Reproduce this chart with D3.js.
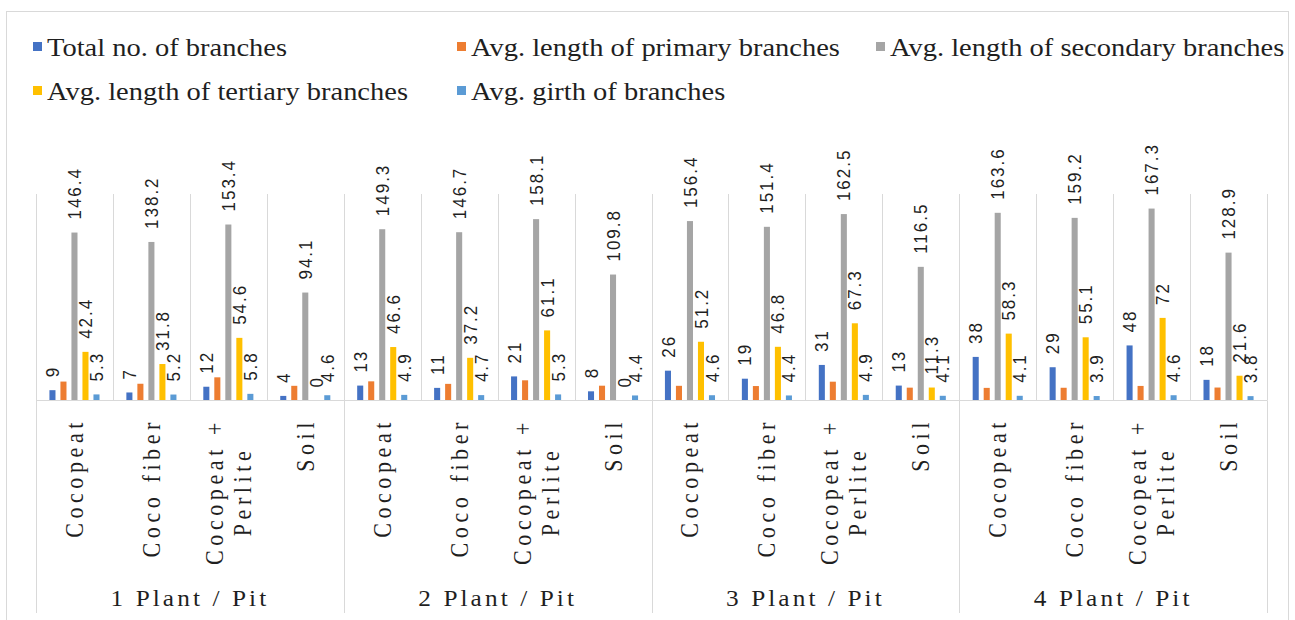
<!DOCTYPE html>
<html>
<head>
<meta charset="utf-8">
<script src="https://cdn.jsdelivr.net/npm/d3@7"></script>
<style>
  body { margin: 0; background: #fff; }
  text { fill: #1f1f1f; }
</style>
</head>
<body>
<div id="chart"></div>
<script>
// data
var groups = ["1 Plant / Pit", "2 Plant / Pit", "3 Plant / Pit", "4 Plant / Pit"];
var media = ["Cocopeat", "Coco fiber", "Cocopeat + Perlite", "Soil"];
var seriesNames = ["Total no. of branches", "Avg. length of primary branches",
  "Avg. length of secondary branches", "Avg. length of tertiary branches", "Avg. girth of branches"];

var totalBranches = [9, 7, 12, 4, 13, 11, 21, 8, 26, 19, 31, 13, 38, 29, 48, 18];
var primaryLength = [16.5, 14.6, 20.2, 12.8, 16.7, 14.5, 17.6, 12.9, 12.8, 12.6, 16.4, 11.2, 11.0, 11.1, 12.7, 11.3];
var secondaryLength = [146.4, 138.2, 153.4, 94.1, 149.3, 146.7, 158.1, 109.8, 156.4, 151.4, 162.5, 116.5, 163.6, 159.2, 167.3, 128.9];
var tertiaryLength = [42.4, 31.8, 54.6, 0, 46.6, 37.2, 61.1, 0, 51.2, 46.8, 67.3, 11.3, 58.3, 55.1, 72, 21.6];
var girth = [5.3, 5.2, 5.8, 4.6, 4.9, 4.7, 5.3, 4.4, 4.6, 4.4, 4.9, 4.1, 4.1, 3.9, 4.6, 3.8];

var seriesValues = [totalBranches, primaryLength, secondaryLength, tertiaryLength, girth];
var colors = ["#4472C4", "#ED7D31", "#A5A5A5", "#FFC000", "#5B9BD5"];
var showLabel = [true, false, true, true, true];

var width = 1295, height = 620;
var plotLeft = 36, plotRight = 1267, plotTop = 194, baseY = 400.5;
var stretch = 1.1;
var serif = "'Liberation Serif', 'Times New Roman', serif";
var sans = "'Liberation Sans', Arial, sans-serif";

var svg = d3.select("#chart").append("svg")
  .attr("width", width)
  .attr("height", height);

// chart border
svg.append("rect")
  .attr("x", 6.5).attr("y", 11.5)
  .attr("width", 1282).attr("height", 640)
  .attr("fill", "none").attr("stroke", "#d9d9d9");

// scales
var x0 = d3.scaleBand().domain(groups).range([plotLeft, plotRight]);
var x1 = d3.scaleBand().domain(media).range([0, x0.bandwidth()]);
var xs = d3.scaleBand().domain(seriesNames).range([0, x1.bandwidth()])
  .paddingInner(0.45).paddingOuter(1.22);
var y = d3.scaleLinear().domain([0, 180]).range([baseY, plotTop]);

// build rows
var rows = [];
groups.forEach(function(g, gi) {
  media.forEach(function(m, mi) {
    var idx = gi * media.length + mi;
    seriesNames.forEach(function(s, si) {
      rows.push({group: g, medium: m, series: s, si: si, value: seriesValues[si][idx]});
    });
  });
});

// vertical gridlines at category boundaries
var bounds = [];
groups.forEach(function(g) {
  media.forEach(function(m) { bounds.push(x0(g) + x1(m)); });
});
bounds.push(plotRight);
svg.selectAll("line.grid")
  .data(bounds)
  .enter().append("line")
    .attr("class", "grid")
    .attr("x1", function(d) { return Math.round(d) + 0.5; })
    .attr("x2", function(d) { return Math.round(d) + 0.5; })
    .attr("y1", y(180))
    .attr("y2", y(0))
    .attr("stroke", "#d9d9d9");

// bars
svg.selectAll("rect.bar")
  .data(rows)
  .enter().append("rect")
    .attr("class", "bar")
    .attr("x", function(d) { return x0(d.group) + x1(d.medium) + xs(d.series); })
    .attr("y", function(d) { return y(d.value); })
    .attr("width", xs.bandwidth())
    .attr("height", function(d) { return y(0) - y(d.value); })
    .attr("fill", function(d) { return colors[d.si]; });

// data labels (rotated)
svg.selectAll("text.val")
  .data(rows.filter(function(d) { return showLabel[d.si]; }))
  .enter().append("text")
    .attr("class", "val")
    .attr("transform", function(d) {
      var cx = x0(d.group) + x1(d.medium) + xs(d.series) + xs.bandwidth() / 2;
      return "translate(" + cx + "," + (y(d.value) - 13) + ") scale(" + stretch + ",1) rotate(-90)";
    })
    .attr("dy", "0.35em")
    .attr("text-anchor", "start")
    .style("font-family", sans)
    .style("font-size", "17px")
    .style("letter-spacing", "2px")
    .text(function(d) { return d.value; });

// axis line
svg.append("line")
  .attr("x1", plotLeft).attr("x2", plotRight)
  .attr("y1", baseY).attr("y2", baseY)
  .attr("stroke", "#d9d9d9");

// group separators below the axis
var sepX = groups.map(function(g) { return x0(g); }).concat([plotRight]);
svg.selectAll("line.sep")
  .data(sepX)
  .enter().append("line")
    .attr("class", "sep")
    .attr("x1", function(d) { return Math.round(d) + 0.5; })
    .attr("x2", function(d) { return Math.round(d) + 0.5; })
    .attr("y1", baseY)
    .attr("y2", 613)
    .attr("stroke", "#d9d9d9");

// category labels, rotated, wrapped
var catTop = 418;
groups.forEach(function(g) {
  media.forEach(function(m) {
    var cx = x0(g) + x1(m) + x1.bandwidth() / 2;
    var lines = m.indexOf(" + ") > -1 ? [m.split(" + ")[0] + " +", m.split(" + ")[1]] : [m];
    var gText = svg.append("g");
    var texts = lines.map(function(l) {
      return gText.append("text")
        .attr("text-anchor", "middle")
        .style("font-family", serif)
        .style("font-size", "22px")
        .style("letter-spacing", "4.6px")
        .text(l);
    });
    var maxLen = d3.max(texts, function(t) { return t.node().getComputedTextLength(); });
    var cy = catTop + maxLen / 2;
    var lineH = 28;
    texts.forEach(function(t, i) {
      var off = (i - (lines.length - 1) / 2) * lineH;
      t.attr("transform", "translate(" + (cx + off) + "," + cy + ") scale(" + stretch + ",1) rotate(-90)")
        .attr("dy", "0.35em");
    });
  });
});

// group labels
svg.selectAll("text.grp")
  .data(groups)
  .enter().append("text")
    .attr("class", "grp")
    .attr("transform", function(d) {
      return "translate(" + (x0(d) + x0.bandwidth() / 2) + ",606) scale(" + stretch + ",1)";
    })
    .attr("text-anchor", "middle")
    .style("font-family", serif)
    .style("font-size", "23px")
    .style("letter-spacing", "2.8px")
    .text(function(d) { return d; });

// legend
var legendPos = [[33, 47], [457, 47], [876, 47], [33, 91], [457, 91]];
var legend = svg.selectAll("g.leg")
  .data(seriesNames)
  .enter().append("g")
    .attr("class", "leg")
    .attr("transform", function(d, i) { return "translate(" + legendPos[i][0] + "," + legendPos[i][1] + ")"; });

legend.append("rect")
  .attr("x", 0).attr("y", -5)
  .attr("width", 9).attr("height", 9)
  .attr("fill", function(d, i) { return colors[i]; });

legend.append("text")
  .attr("transform", "translate(14,0) scale(1.14,1)")
  .attr("dy", "0.35em")
  .style("font-family", serif)
  .style("font-size", "25px")
  .text(function(d) { return d; });
</script>
</body>
</html>
